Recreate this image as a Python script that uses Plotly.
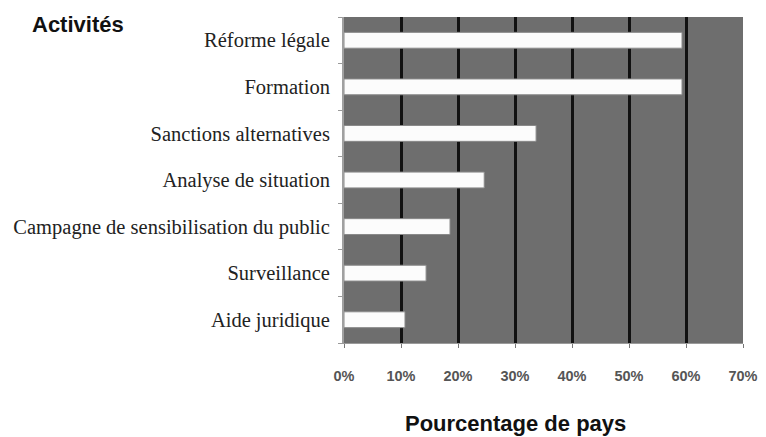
import plotly.graph_objects as go

categories = ["Réforme légale", "Formation", "Sanctions alternatives", "Analyse de situation",
              "Campagne de sensibilisation du public", "Surveillance", "Aide juridique"]
values = [59.3, 59.3, 33.7, 24.6, 18.6, 14.4, 10.7]
x_ticks = [0, 10, 20, 30, 40, 50, 60, 70]
x_tick_labels = ["0%", "10%", "20%", "30%", "40%", "50%", "60%", "70%"]

# the page body adds an 8px offset; compensate
OFF = 8
W, H = 766 - OFF, 437 - OFF
ML, MR, MT, MB = 344 - OFF, 23, 17 - OFF, 94
pw = W - ML - MR
ph = H - MT - MB


def px_to_paper(px, py):
    return (px - OFF - ML) / pw, 1 - (py - OFF - MT) / ph


fig = go.Figure(go.Bar(
    x=values, y=categories, orientation="h",
    marker=dict(color="#fcfcfc", line=dict(color="#8a8a8a", width=1)),
    width=0.34,
))

ax, ay = px_to_paper(78, 25)
bx, by = px_to_paper(515, 423)

title_font = dict(family="Liberation Sans, Arial", size=22, color="#111111")

fig.update_layout(
    width=W, height=H,
    margin=dict(l=ML, r=MR, t=MT, b=MB, autoexpand=False),
    paper_bgcolor="white", plot_bgcolor="#6e6e6e",
    showlegend=False,
    xaxis=dict(
        range=[0, 70], tickvals=x_ticks, ticktext=x_tick_labels,
        showgrid=True, gridcolor="#111111", gridwidth=2.5,
        zeroline=False, showline=True, linecolor="#9a9a9a", linewidth=1,
        ticks="outside", ticklen=4, tickcolor="#777777",
        ticklabelstandoff=16, automargin=False,
        tickfont=dict(family="Liberation Sans, Arial", size=14.5, color="#555555", weight="bold"),
        fixedrange=True,
    ),
    yaxis=dict(
        categoryorder="array", categoryarray=categories[::-1],
        tickson="boundaries", ticks="outside", ticklen=4, tickcolor="#999999",
        showgrid=False, showline=True, linecolor="#a0a0a0", linewidth=2,
        ticklabelstandoff=8, automargin=False,
        tickfont=dict(family="Liberation Serif, DejaVu Serif", size=20.5, color="#222222"),
        fixedrange=True,
    ),
    annotations=[
        dict(text="<b>Activités</b>", x=ax, y=ay, xref="paper", yref="paper", showarrow=False,
             xanchor="center", yanchor="middle", font=title_font),
        dict(text="<b>Pourcentage de pays</b>", x=bx, y=by, xref="paper", yref="paper", showarrow=False,
             xanchor="center", yanchor="middle", font=title_font),
    ],
)

fig.write_html("out.html")
